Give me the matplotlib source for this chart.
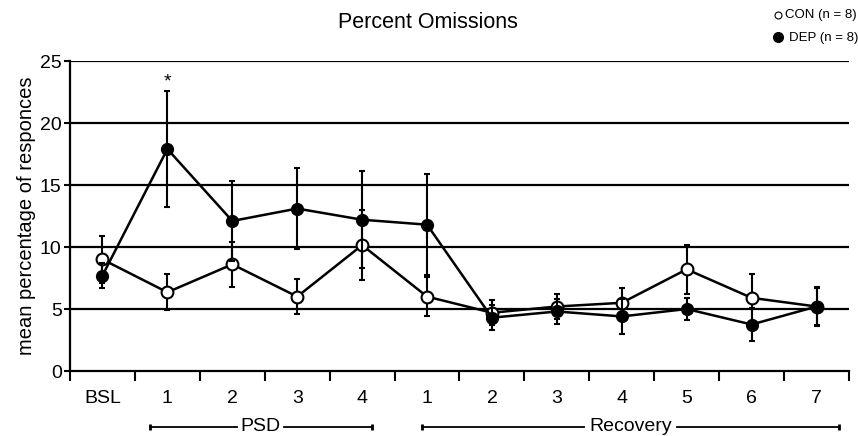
import matplotlib.pyplot as plt
import matplotlib.transforms as mtransforms
import numpy as np

plt.rcParams['font.family'] = ['Liberation Sans', 'DejaVu Sans']

# Data
labels = ['BSL', '1', '2', '3', '4', '1', '2', '3', '4', '5', '6', '7']
con_mean = [9.0, 6.35, 8.6, 6.0, 10.15, 6.0, 4.7, 5.2, 5.5, 8.2, 5.9, 5.2]
con_err = [1.9, 1.45, 1.8, 1.4, 2.8, 1.6, 1.0, 1.0, 1.2, 2.0, 1.9, 1.5]
dep_mean = [7.7, 17.9, 12.1, 13.1, 12.2, 11.8, 4.3, 4.8, 4.4, 5.0, 3.75, 5.2]
dep_err = [1.0, 4.65, 3.2, 3.25, 3.9, 4.05, 1.0, 1.0, 1.4, 0.9, 1.3, 1.6]

x = np.arange(len(labels))

fig = plt.figure(figsize=(8.58, 4.36), dpi=100)
ax = fig.add_axes([70 / 858, 1 - 371 / 436, 779 / 858, 310 / 436])

# horizontal reference lines
for yv in [5, 10, 15, 20, 25]:
    ax.axhline(yv, color='black', lw=1.6, zorder=1)

ax.errorbar(x, con_mean, yerr=con_err, fmt='-o', color='black', mfc='white',
            mec='black', mew=1.5, ms=8.5, lw=1.8, elinewidth=1.5, capsize=2,
            capthick=1.5, zorder=3)
ax.errorbar(x, dep_mean, yerr=dep_err, fmt='-o', color='black', mfc='black',
            mec='black', ms=8.5, lw=1.8, elinewidth=1.5, capsize=2,
            capthick=1.5, zorder=4)

ax.text(1, 23.3, '*', ha='center', va='center', fontsize=14)

ax.set_xlim(-0.5, len(labels) - 0.5)
ax.set_ylim(0, 25)
ax.set_yticks([0, 5, 10, 15, 20, 25])
ax.tick_params(axis='y', labelsize=14, length=4, width=1.5, direction='out', pad=2)
ax.set_xticks(np.arange(len(labels) + 1) - 0.5)
ax.set_xticklabels([])
ax.tick_params(axis='x', length=7, width=1.5, direction='out')
for xi, lab in zip(x, labels):
    ax.text(xi, -1.5, lab, ha='center', va='top', fontsize=14)

for side in ['top', 'right']:
    ax.spines[side].set_visible(False)
for side in ['left', 'bottom']:
    ax.spines[side].set_linewidth(1.6)

ax.set_ylabel('mean percentage of responces', fontsize=14.5, labelpad=3)

# PSD / Recovery brackets
trans = mtransforms.blended_transform_factory(ax.transData, ax.transAxes)
yb = -0.18
for x0, x1, name, half in [(0.73, 4.15, 'PSD', 0.36), (4.92, 11.35, 'Recovery', 0.71)]:
    xm = (x0 + x1) / 2
    ax.plot([x0, xm - half], [yb, yb], color='black', lw=1.3, transform=trans, clip_on=False)
    ax.plot([xm + half, x1], [yb, yb], color='black', lw=1.3, transform=trans, clip_on=False)
    ax.plot([x0, x1], [yb, yb], ls='none', marker='|', ms=5, mew=2, color='black',
            transform=trans, clip_on=False)
    ax.text(xm, yb, name, ha='center', va='center', fontsize=14, transform=trans)

fig.text(428 / 858, 1 - 22 / 436, 'Percent Omissions', ha='center', va='center',
         fontsize=15.5)

# legend
fig.text(785 / 858, 1 - 15 / 436, 'CON (n = 8)', ha='left', va='center', fontsize=9.5)
fig.text(789 / 858, 1 - 38 / 436, 'DEP (n = 8)', ha='left', va='center', fontsize=9.5)
fig.lines.append(plt.Line2D([778 / 858], [1 - 15 / 436], marker='o', ms=5, mfc='white',
                            mec='black', mew=0.8, transform=fig.transFigure))
fig.lines.append(plt.Line2D([778 / 858], [1 - 37 / 436], marker='o', ms=7, mfc='black',
                            mec='black', transform=fig.transFigure))

fig.savefig('out.png', dpi=100)
